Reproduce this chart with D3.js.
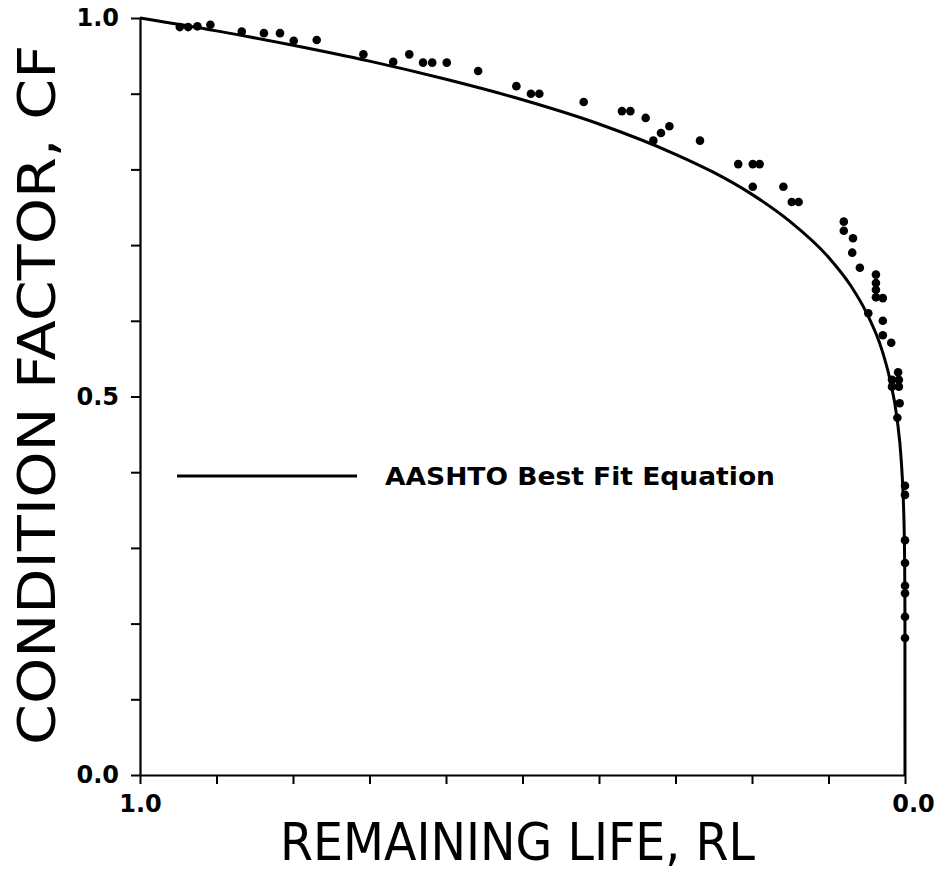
<!DOCTYPE html>
<html>
<head>
<meta charset="utf-8">
<script src="https://cdn.jsdelivr.net/npm/d3@7"></script>
<style>
  body { margin: 0; background: #fff; }
  svg { display: block; }
</style>
</head>
<body>
<script>
// observed points: remaining life (RL) and condition factor (CF)
const obsRL = [0.948, 0.937, 0.925, 0.908, 0.867, 0.838, 0.817, 0.799, 0.769, 0.708,
  0.669, 0.648, 0.630, 0.618, 0.599, 0.558, 0.508, 0.489, 0.478, 0.420,
  0.370, 0.359, 0.339, 0.329, 0.319, 0.308, 0.268, 0.218, 0.199, 0.190,
  0.199, 0.159, 0.148, 0.139, 0.080, 0.080, 0.068, 0.069, 0.059, 0.038,
  0.038, 0.038, 0.038, 0.029, 0.048, 0.029, 0.029, 0.018, 0.009, 0.017,
  0.008, 0.017, 0.008, 0.007, 0.010, 0.0, 0.0, 0.0, 0.0, 0.0,
  0.0, 0.0, 0.0];
const obsCF = [0.988, 0.988, 0.989, 0.991, 0.982, 0.980, 0.980, 0.970, 0.971, 0.952,
  0.942, 0.952, 0.941, 0.941, 0.941, 0.930, 0.910, 0.900, 0.900, 0.889,
  0.877, 0.877, 0.868, 0.838, 0.848, 0.857, 0.838, 0.807, 0.807, 0.807,
  0.777, 0.777, 0.757, 0.757, 0.731, 0.719, 0.709, 0.690, 0.670, 0.661,
  0.650, 0.641, 0.631, 0.630, 0.610, 0.600, 0.581, 0.571, 0.532, 0.522,
  0.522, 0.513, 0.513, 0.491, 0.472, 0.382, 0.370, 0.310, 0.280, 0.250,
  0.240, 0.209, 0.181];

// AASHTO best fit curve
const fitRL = [1.0, 0.9, 0.8, 0.7, 0.6, 0.5, 0.4, 0.3, 0.25, 0.2, 0.15, 0.1,
  0.07, 0.05, 0.03, 0.02, 0.01, 0.005, 0.002, 0.001, 0.0005, 0.0001, 0.0];
const fitCF = [1.0, 0.983, 0.964, 0.943, 0.919, 0.892, 0.860, 0.820, 0.796, 0.767, 0.731, 0.684,
  0.645, 0.610, 0.561, 0.524, 0.468, 0.417, 0.358, 0.320, 0.285, 0.219, 0.0];

const xTicks = [1.0, 0.9, 0.8, 0.7, 0.6, 0.5, 0.4, 0.3, 0.2, 0.1, 0.0];
const yTicks = [0.0, 0.1, 0.2, 0.3, 0.4, 0.5, 0.6, 0.7, 0.8, 0.9, 1.0];
const xTickLabels = { "1": "1.0", "0": "0.0" };
const yTickLabels = { "0": "0.0", "0.5": "0.5", "1": "1.0" };

const W = 939, H = 877;

const x = d3.scaleLinear().domain([1, 0]).range([140, 905]);
const y = d3.scaleLinear().domain([0, 1]).range([775, 18]);

const svg = d3.select("body").append("svg")
  .attr("width", W)
  .attr("height", H);

// axes
const xAxis = svg.append("g")
  .attr("transform", "translate(0,775)")
  .call(d3.axisBottom(x).tickValues(xTicks).tickSize(9).tickSizeOuter(0).tickPadding(11)
    .tickFormat(d => xTickLabels[String(+d.toFixed(1))] || ""));

const yAxis = svg.append("g")
  .attr("transform", "translate(140,0)")
  .call(d3.axisLeft(y).tickValues(yTicks).tickSize(9).tickSizeOuter(0).tickPadding(12)
    .tickFormat(d => yTickLabels[String(+d.toFixed(1))] || ""));

[xAxis, yAxis].forEach(g => {
  g.select(".domain").attr("stroke", "#000").attr("stroke-width", 2.2);
  g.selectAll(".tick line").attr("stroke", "#000").attr("stroke-width", 2);
  g.selectAll(".tick text")
    .attr("fill", "#000")
    .style("font-family", "'DejaVu Sans', sans-serif")
    .style("font-weight", "bold")
    .style("font-size", "24px");
});
xAxis.select(".tick:last-of-type text").attr("dx", "8");

// fit curve
const line = d3.line()
  .x((d, i) => x(fitRL[i]))
  .y((d, i) => y(fitCF[i]))
  .curve(d3.curveMonotoneX);

svg.append("path")
  .datum(fitRL)
  .attr("d", line)
  .attr("fill", "none")
  .attr("stroke", "#000")
  .attr("stroke-width", 3);

// observed points
svg.selectAll(".pt")
  .data(obsRL)
  .enter().append("circle")
  .attr("class", "pt")
  .attr("cx", d => x(d))
  .attr("cy", (d, i) => y(obsCF[i]))
  .attr("r", 4.3)
  .attr("fill", "#000");

// legend
svg.append("line")
  .attr("x1", 177).attr("x2", 357)
  .attr("y1", 476).attr("y2", 476)
  .attr("stroke", "#000")
  .attr("stroke-width", 3);

svg.append("text")
  .attr("x", 385)
  .attr("y", 485)
  .attr("textLength", 390)
  .attr("lengthAdjust", "spacingAndGlyphs")
  .style("font-family", "'DejaVu Sans', sans-serif")
  .style("font-weight", "bold")
  .style("font-size", "24px")
  .text("AASHTO Best Fit Equation");

// axis titles
svg.append("text")
  .attr("x", 280)
  .attr("y", 860)
  .attr("textLength", 475)
  .attr("lengthAdjust", "spacingAndGlyphs")
  .style("font-family", "'DejaVu Sans', sans-serif")
  .style("font-size", "52px")
  .text("REMAINING LIFE, RL");

svg.append("text")
  .attr("transform", "translate(55,745) rotate(-90)")
  .attr("textLength", 700)
  .attr("lengthAdjust", "spacingAndGlyphs")
  .style("font-family", "'DejaVu Sans', sans-serif")
  .style("font-size", "52px")
  .text("CONDITION FACTOR, CF");
</script>
</body>
</html>
